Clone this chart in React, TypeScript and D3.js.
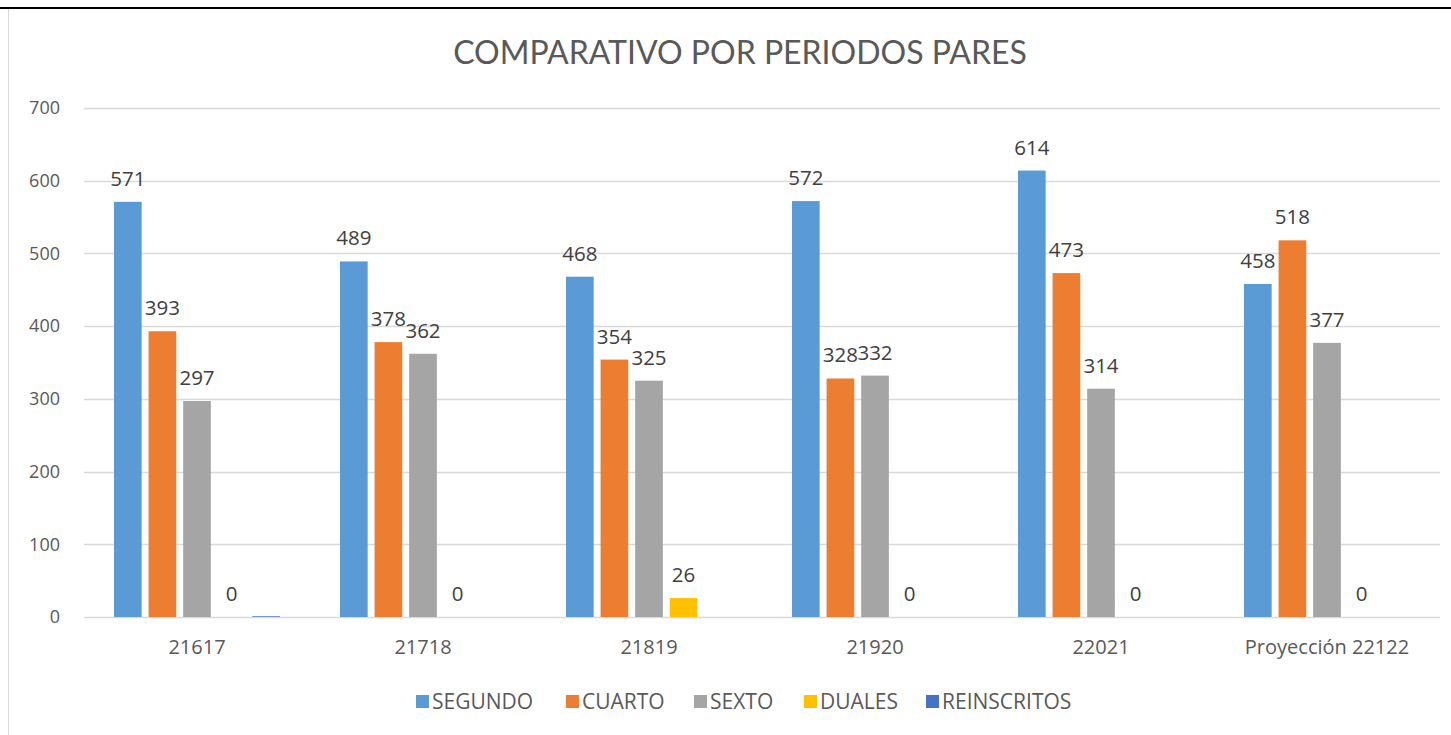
import * as d3 from "d3";
import React from "react";

const categories = ["21617", "21718", "21819", "21920", "22021", "Proyección 22122"];
const seriesNames = ["SEGUNDO", "CUARTO", "SEXTO", "DUALES", "REINSCRITOS"];
const seriesColors = ["#5B9BD5", "#ED7D31", "#A5A5A5", "#FFC000", "#4472C4"];
const segundo = [571, 489, 468, 572, 614, 458];
const cuarto = [393, 378, 354, 328, 473, 518];
const sexto = [297, 362, 325, 332, 314, 377];
const duales = [0, 0, 26, 0, 0, 0];
const reinscritos = [1, 0, 0, 0, 0, 0];
const yTicks = [0, 100, 200, 300, 400, 500, 600, 700];
const labeled = [true, true, true, true, false];

export default function App() {
  const width = 1451;
  const height = 735;
  const svgRef = React.useRef<SVGSVGElement | null>(null);

  React.useEffect(() => {
    const svg = d3.select(svgRef.current);
    svg.selectAll("*").remove();
    const font = "'Open Sans', sans-serif";
    const margin = { top: 108, right: 11, bottom: 118, left: 84 };
    const allSeries = [segundo, cuarto, sexto, duales, reinscritos];

    // frame
    svg.append("line").attr("x1", 0).attr("x2", width).attr("y1", 8).attr("y2", 8)
      .attr("stroke", "#000").attr("stroke-width", 2);
    svg.append("line").attr("x1", 8.5).attr("x2", 8.5).attr("y1", 9).attr("y2", height)
      .attr("stroke", "#d9d9d9").attr("stroke-width", 1);

    const x0 = d3.scaleBand<string>().domain(categories)
      .range([margin.left, width - margin.right]);
    const x1 = d3.scaleBand<string>().domain(seriesNames)
      .range([30, x0.bandwidth() - 30]).paddingInner(0.2);
    const y = d3.scaleLinear().domain([0, 700]).range([height - margin.bottom, margin.top]);

    // gridlines
    svg.append("g").selectAll("line").data(yTicks).join("line")
      .attr("x1", margin.left).attr("x2", width - margin.right)
      .attr("y1", (d) => Math.round(y(d)) + 0.5).attr("y2", (d) => Math.round(y(d)) + 0.5)
      .attr("stroke", "#d9d9d9").attr("stroke-width", 1.5);

    svg.append("g").selectAll("text").data(yTicks).join("text")
      .attr("x", 60).attr("y", (d) => y(d)).attr("dy", "0.35em")
      .attr("text-anchor", "end").attr("font-family", font).attr("font-size", 18)
      .attr("fill", "#595959").text((d) => d);

    // bars
    allSeries.forEach((vals, si) => {
      const g = svg.append("g");
      g.selectAll("rect").data(vals).join("rect")
        .attr("x", (_, i) => (x0(categories[i]) ?? 0) + (x1(seriesNames[si]) ?? 0))
        .attr("width", x1.bandwidth())
        .attr("y", (d) => y(d))
        .attr("height", (d) => y(0) - y(d))
        .attr("fill", seriesColors[si]);
      if (labeled[si]) {
        g.selectAll("text").data(vals).join("text")
          .attr("x", (_, i) => (x0(categories[i]) ?? 0) + (x1(seriesNames[si]) ?? 0) + x1.bandwidth() / 2)
          .attr("y", (d) => y(d) - 16)
          .attr("text-anchor", "middle").attr("font-family", font).attr("font-size", 20.5)
          .attr("fill", "#404040").text((d) => d);
      }
    });

    // x axis labels
    svg.append("g").selectAll("text").data(categories).join("text")
      .attr("x", (d) => (x0(d) ?? 0) + x0.bandwidth() / 2)
      .attr("y", height - margin.bottom + 37)
      .attr("text-anchor", "middle").attr("font-family", font).attr("font-size", 20)
      .attr("fill", "#595959").text((d) => d);

    // title
    svg.append("text").attr("x", 740).attr("y", 64).attr("text-anchor", "middle")
      .attr("font-family", "Lato, sans-serif").attr("font-size", 32).attr("fill", "#595959")
      .text("COMPARATIVO POR PERIODOS PARES");

    // legend
    const legendX = [416, 566, 694, 804, 926];
    const lg = svg.append("g");
    seriesNames.forEach((name, i) => {
      lg.append("rect").attr("x", legendX[i]).attr("y", 695).attr("width", 13).attr("height", 13)
        .attr("fill", seriesColors[i]);
      lg.append("text").attr("x", legendX[i] + 16).attr("y", 702).attr("dy", "0.35em")
        .attr("font-family", font).attr("font-size", 21).attr("fill", "#595959").text(name);
    });
  }, []);

  return (
    <svg
      ref={svgRef}
      width={width}
      height={height}
      viewBox={`0 0 ${width} ${height}`}
      style={{ position: "absolute", left: 0, top: 0, background: "#fff" }}
    ></svg>
  );
}
